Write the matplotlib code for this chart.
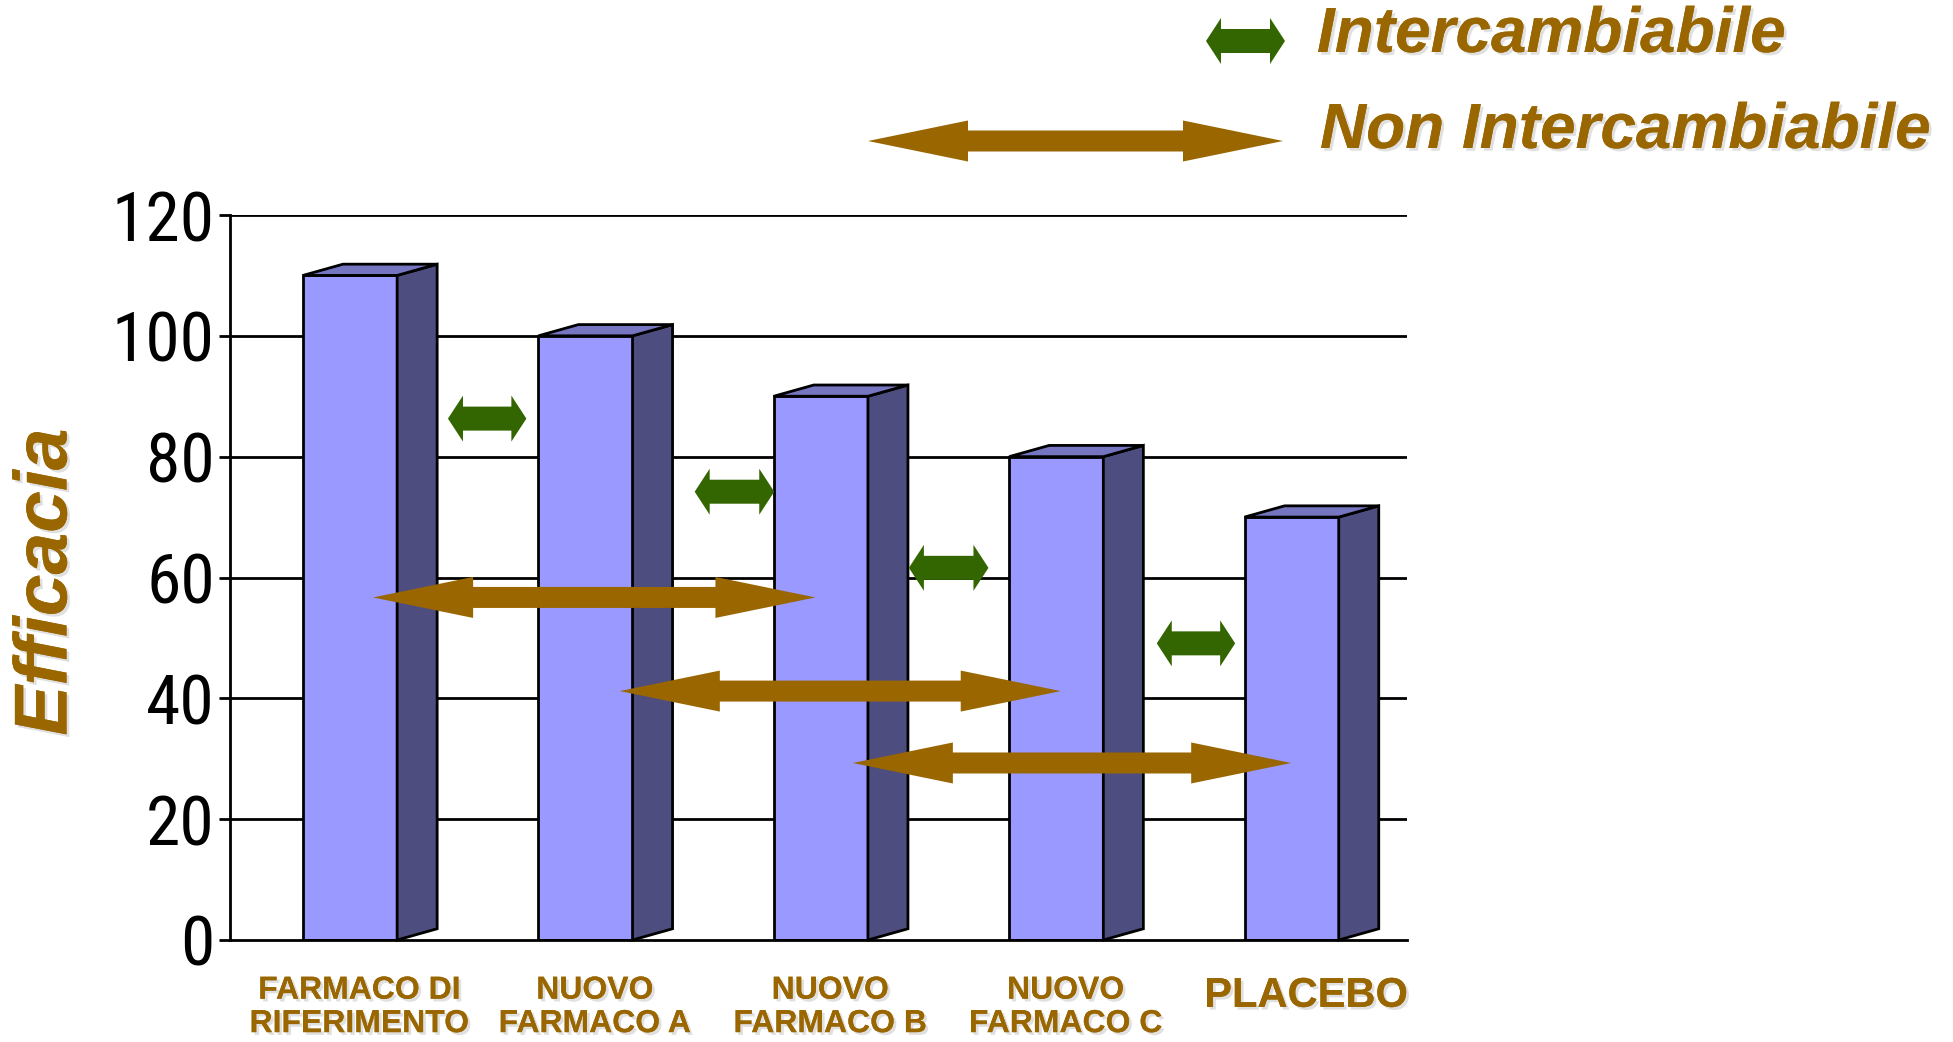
import matplotlib
matplotlib.use('Agg')
import matplotlib.pyplot as plt
from matplotlib.patches import Polygon
import matplotlib.patheffects as pe
from matplotlib import font_manager

# ---------------- data ----------------
categories = ['FARMACO DI\nRIFERIMENTO', 'NUOVO\nFARMACO A', 'NUOVO\nFARMACO B',
              'NUOVO\nFARMACO C', 'PLACEBO']
values = [110, 100, 90, 80, 70]
y_ticks = [0, 20, 40, 60, 80, 100, 120]
y_label = 'Efficacia'
legend_labels = ['Intercambiabile', 'Non Intercambiabile']

# interchangeable (green) arrows: start x, end x, level (data units)
green_start = [0.426, 1.474, 2.384, 3.437]
green_end = [0.759, 1.812, 2.722, 3.770]
green_level = [86.3, 74.2, 61.6, 49.1]
# non-interchangeable (brown) arrows
brown_start = [0.108, 1.156, 2.146]
brown_end = [1.987, 3.029, 4.008]
brown_level = [56.7, 41.2, 29.3]

# ---------------- style ----------------
W, H = 1953, 1042
BROWN = '#996600'
GREEN = '#336600'
FRONT = '#9999FF'
SIDE = '#4D4D80'
TOP = '#7575C0'
available = {f.name for f in font_manager.fontManager.ttflist}
NARROW = [f for f in ['Liberation Sans Narrow', 'Arial Narrow', 'Roboto Condensed',
                      'Open Sans Condensed', 'DejaVu Sans Condensed']
          if f in available] + ['Liberation Sans', 'DejaVu Sans']
SANS = ['Liberation Sans', 'DejaVu Sans']

fig = plt.figure(figsize=(W / 100, H / 100), dpi=100)
ax = fig.add_axes([230 / W, 1 - 940 / H, 1177 / W, 725 / H])

xs = list(range(len(values)))
bw = 0.40
off = 0.01
dx, dy = 0.17, 1.86

ax.set_xlim(-0.5, 4.5)
ax.set_ylim(0, 120)
ax.set_yticks(y_ticks)
ax.set_xticks([])
for y in y_ticks[1:]:
    ax.axhline(y, color='black', lw=2.0, zorder=1)

for s in ['top', 'right']:
    ax.spines[s].set_visible(False)
ax.spines['left'].set_linewidth(2.0)
ax.spines['bottom'].set_linewidth(2.0)
ax.spines['left'].set_zorder(5)
ax.spines['bottom'].set_zorder(5)
ax.tick_params(axis='y', direction='out', length=8, width=2.0, pad=3,
               labelsize=50)
for lab in ax.get_yticklabels():
    lab.set_fontfamily(NARROW)

ax.bar([x + off for x in xs], values, width=bw, color=FRONT, edgecolor='black',
       linewidth=2.0, zorder=3)
for x, v in zip(xs, values):
    r = x + off + bw / 2
    l = x + off - bw / 2
    ax.add_patch(Polygon([(r, 0), (r + dx, dy), (r + dx, v + dy), (r, v)],
                         closed=True, facecolor=SIDE, edgecolor='black',
                         linewidth=2.0, zorder=3, clip_on=False))
    ax.add_patch(Polygon([(l, v), (l + dx, v + dy), (r + dx, v + dy), (r, v)],
                         closed=True, facecolor=TOP, edgecolor='black',
                         linewidth=2.0, zorder=3, clip_on=False))

shadow = [pe.withSimplePatchShadow(offset=(2, -2), shadow_rgbFace='#999999',
                                   alpha=0.3), pe.Normal()]

# category labels
xt = ax.get_xaxis_transform()
for x, c in zip(xs, categories):
    if '\n' in c:
        ax.text(x + 0.05, -0.093, c, transform=xt, ha='center', va='center',
                fontsize=23, fontweight='bold', color=BROWN, family=SANS,
                linespacing=1.15, path_effects=shadow)
    else:
        ax.text(x + 0.07, -0.077, c, transform=xt, ha='center', va='center',
                fontsize=30, fontweight='bold', color=BROWN, family=SANS,
                path_effects=shadow)

fig.text(47 / W, 1 - 582 / H, y_label, rotation=90, ha='center', va='center',
         fontsize=54, fontweight='bold', fontstyle='italic', color=BROWN,
         family=SANS, path_effects=shadow)


def arrow_px(x0, x1, y, head_len, head_h, shaft_h, color):
    pts = [(x0, y), (x0 + head_len, y + head_h / 2),
           (x0 + head_len, y + shaft_h / 2), (x1 - head_len, y + shaft_h / 2),
           (x1 - head_len, y + head_h / 2), (x1, y),
           (x1 - head_len, y - head_h / 2), (x1 - head_len, y - shaft_h / 2),
           (x0 + head_len, y - shaft_h / 2), (x0 + head_len, y - head_h / 2)]
    pts = [(px / W, py / H) for px, py in pts]
    fig.add_artist(Polygon(pts, closed=True, transform=fig.transFigure,
                           facecolor=color, edgecolor='none', zorder=10))


def arrow_data(x0, x1, y, head_len, head_h, shaft_h, color):
    p0 = ax.transData.transform((x0, y))
    p1 = ax.transData.transform((x1, y))
    arrow_px(p0[0], p1[0], p0[1], head_len, head_h, shaft_h, color)


for a, b, y in zip(green_start, green_end, green_level):
    arrow_data(a, b, y, 15, 46, 24, GREEN)
for a, b, y in zip(brown_start, brown_end, brown_level):
    arrow_data(a, b, y, 100, 41, 21, BROWN)

# legend
arrow_px(1206, 1285, H - 41, 15, 46, 24, GREEN)
arrow_px(868, 1283, H - 141, 100, 41, 21, BROWN)
fig.text(1317 / W, 1 - 35 / H, legend_labels[0], ha='left', va='center',
         fontsize=46, fontweight='bold', fontstyle='italic', color=BROWN,
         family=SANS, path_effects=shadow)
fig.text(1320 / W, 1 - 131 / H, legend_labels[1], ha='left', va='center',
         fontsize=46, fontweight='bold', fontstyle='italic', color=BROWN,
         family=SANS, path_effects=shadow)

fig.savefig('out.png', dpi=100)
